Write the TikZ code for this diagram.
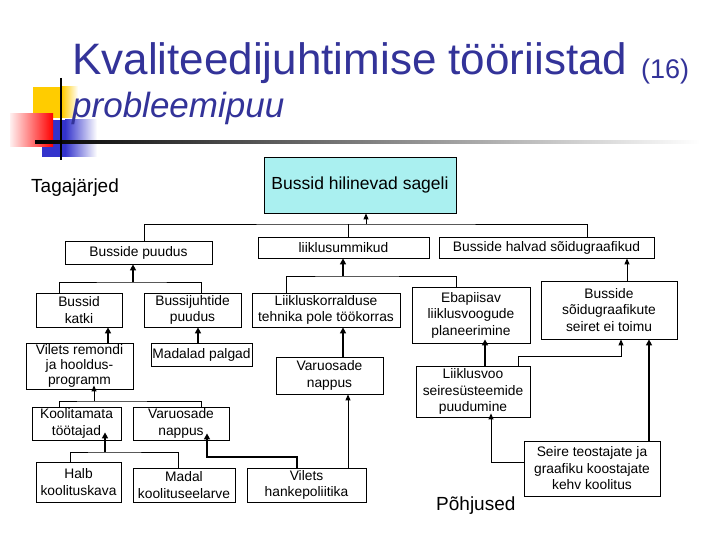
\documentclass[tikz,border=0pt]{standalone}
\usepackage{fontspec}
\setmainfont{Liberation Sans}
\usetikzlibrary{arrows.meta,calc}
\definecolor{titleblue}{RGB}{51,51,153}
\definecolor{topcyan}{RGB}{170,240,240}
\definecolor{decoY}{RGB}{255,204,0}
\definecolor{decoB}{RGB}{51,51,204}
\definecolor{decoR}{RGB}{255,0,0}
\begin{document}
\begin{tikzpicture}[x=1pt,y=-1pt,
  box/.style={draw=black,line width=0.8pt,fill=white,inner sep=0pt,align=center,
    font=\fontsize{13.8}{16.5}\selectfont},
  ln/.style={line width=0.9pt},
  arr/.style={line width=0.9pt,-{Triangle[length=6pt,width=5pt]}},
  tarr/.style={line width=2.6pt,-{Triangle[length=6pt,width=6pt]}},
  marr/.style={line width=1.8pt,-{Triangle[length=6pt,width=6pt]}},
  lbl/.style={anchor=base west,inner sep=0pt,font=\fontsize{19}{22}\selectfont}
]
\useasboundingbox (0,0) rectangle (720,540);
\fill[white] (0,0) rectangle (720,540);

% decoration
\fill[decoY] (33,87) rectangle (62,118);
\shade[left color=decoY,right color=white] (62,87) rectangle (78,118);
\fill[decoB] (42,120) rectangle (65,157);
\shade[left color=decoB,right color=white] (65,120) rectangle (97,157);
\shade[left color=decoR!6,right color=decoR] (10,114) rectangle (53,147);
\shade[left color=black,right color=white] (35,140.5) rectangle (700,143.5);
\draw[line width=2pt] (61,78) -- (61,160);

% titles
\node[anchor=base west,inner sep=0pt,text=titleblue,font=\fontsize{44}{48}\selectfont] (title) at (72,75) {Kvaliteedijuhtimise tööriistad};
\node[anchor=base west,inner sep=0pt,text=titleblue,font=\fontsize{27}{30}\selectfont] (num) at (641,79) {(16)};
\node[anchor=base west,inner sep=0pt,text=titleblue,font=\fontsize{35}{38}\selectfont\itshape] (sub) at (72,118) {probleemipuu};
\node[lbl] (tag) at (31,193) {Tagajärjed};
\node[lbl] (poh) at (436,510) {Põhjused};

% boxes
\node[box,fill=topcyan,minimum width=192pt,minimum height=56pt,font=\fontsize{17.5}{20}\selectfont] (top) at (360,185) {Bussid hilinevad sageli};
\node[box,minimum width=147pt,minimum height=23pt] (bp) at (138.5,252.5) {Busside puudus};
\node[box,minimum width=171pt,minimum height=21pt] (lu) at (343.5,247.5) {liiklusummikud};
\node[box,minimum width=215pt,minimum height=21pt] (bh) at (546.5,247.5) {Busside halvad sõidugraafikud};
\node[box,minimum width=86pt,minimum height=34pt] (bk) at (79,310) {Bussid\\katki};
\node[box,minimum width=97pt,minimum height=34pt] (bj) at (192.5,310) {Bussijuhtide\\puudus};
\node[box,minimum width=107pt,minimum height=46pt,font=\fontsize{13.8}{15}\selectfont] (vr) at (79.5,366) {Vilets remondi\\ja hooldus-\\programm};
\node[box,minimum width=101pt,minimum height=23pt] (mp) at (201.5,354.5) {Madalad palgad};
\node[box,minimum width=89pt,minimum height=33pt] (kt) at (76.5,423.5) {Koolitamata\\töötajad};
\node[box,minimum width=96pt,minimum height=33pt] (vn1) at (181,423.5) {Varuosade\\nappus};
\node[box,minimum width=85pt,minimum height=40pt] (hk) at (78.5,482) {Halb\\koolituskava};
\node[box,minimum width=102pt,minimum height=34pt] (mk) at (184,485) {Madal\\koolituseelarve};
\node[box,minimum width=119pt,minimum height=34pt] (vh) at (306.5,485) {Vilets\\hankepoliitika};
\node[box,minimum width=148pt,minimum height=34pt] (lk) at (326,310) {Liikluskorralduse\\tehnika pole töökorras};
\node[box,minimum width=107pt,minimum height=37pt] (vn2) at (329.5,375.5) {Varuosade\\nappus};
\node[box,minimum width=118pt,minimum height=56pt] (eb) at (471,315) {Ebapiisav\\liiklusvoogude\\planeerimine};
\node[box,minimum width=136pt,minimum height=58pt] (bs) at (609,310) {Busside\\sõidugraafikute\\seiret ei toimu};
\node[box,minimum width=114pt,minimum height=51pt] (lv) at (473,391.5) {Liiklusvoo\\seiresüsteemide\\puudumine};
\node[box,minimum width=136pt,minimum height=55pt] (st) at (592,468.5) {Seire teostajate ja\\graafiku koostajate\\kehv koolitus};

% connectors
\coordinate (j0) at (366,224);
\draw[ln] ([xshift=5.5pt]bp.north) |- (j0) -| ([xshift=40.5pt]bh.north);
\draw[ln] ([xshift=4.5pt]lu.north) -- ([xshift=4.5pt]lu.north |- j0);
\draw[arr] (j0) -- (j0 |- top.south);

\coordinate (j1) at (133,282);
\draw[ln] ([xshift=-20pt]bk.north) |- (j1) -| ([xshift=8.5pt]bj.north);
\draw[tarr] (j1) -- (j1 |- bp.south);
\draw[tarr] ([xshift=28.5pt]vr.north) -- ([xshift=28.5pt]vr.north |- bk.south);
\draw[tarr] ([xshift=-3.5pt]mp.north) -- ([xshift=-3.5pt]mp.north |- bj.south);

\coordinate (j2) at (94,401);
\draw[ln] ([xshift=-17.5pt]kt.north) |- (j2) -| ([xshift=20pt]vn1.north);
\draw[arr,shorten >=-4pt] (j2) -- (j2 |- vr.south);

\coordinate (j3) at (105,452);
\draw[ln] ([xshift=-8.5pt]hk.north) |- (j3) -| ([xshift=-6pt]mk.north);
\draw[tarr,shorten >=-8pt] (j3) -- (j3 |- kt.south);

\coordinate (j4) at (207,457);
\draw[marr,shorten >=-7pt] ([xshift=-9.5pt]vh.north) |- (j4) -- (j4 |- vn1.south);
\draw[arr] ([xshift=41.5pt]vh.north) -- ([xshift=41.5pt]vh.north |- vn2.south);
\draw[tarr] ([xshift=13.5pt]vn2.north) -- ([xshift=13.5pt]vn2.north |- lk.south);

\coordinate (j5) at (343,276);
\draw[ln] ([xshift=-40pt]lk.north) |- (j5) -| ([xshift=-15pt]eb.north);
\draw[tarr] (j5) -- (j5 |- lu.south);

\draw[arr] ([xshift=18pt]bs.north) -- ([xshift=18pt]bs.north |- bh.south);
\draw[tarr,shorten >=-4pt] ([xshift=12pt]lv.north) -- ([xshift=12pt]lv.north |- eb.south);
\coordinate (j6) at (518,356);
\coordinate (j7) at (621,356);
\draw[arr] (j6 |- lv.north) -- (j6) -- (j7) -- (j7 |- bs.south);
\draw[tarr] ([xshift=57pt]st.north) -- ([xshift=57pt]st.north |- bs.south);
\coordinate (j8) at (491,462);
\draw[arr,shorten >=-4pt] (j8 -| st.west) -- (j8) -- (j8 |- lv.south);
\end{tikzpicture}
\end{document}
